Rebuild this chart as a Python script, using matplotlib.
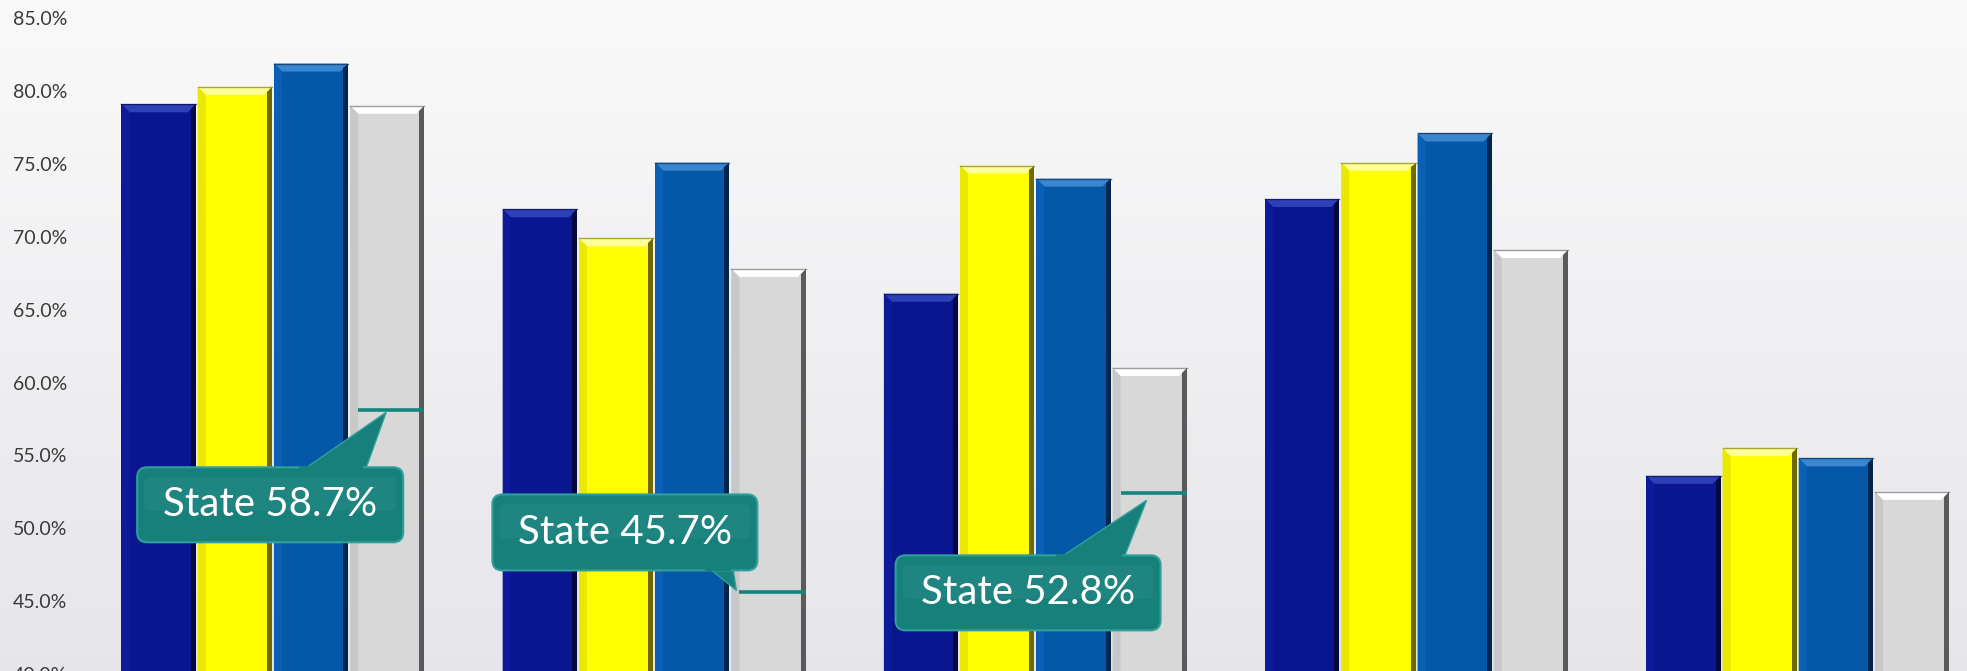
import numpy as np
import matplotlib
matplotlib.use("Agg")
import matplotlib.pyplot as plt
from matplotlib.patches import Polygon, FancyBboxPatch
from matplotlib.ticker import FuncFormatter

# ---------------- data ----------------
categories = ["G1", "G2", "G3", "G4", "G5"]
series_navy = [79.1, 71.9, 66.1, 72.6, 53.6]
series_yellow = [80.3, 69.9, 74.9, 75.1, 55.5]
series_blue = [81.9, 75.1, 74.0, 77.1, 54.8]
series_gray = [79.0, 67.8, 61.0, 69.1, 52.5]
state_groups = [0, 1, 2]
state_line_values = [58.1, 45.6, 52.4]
state_labels = ["State 58.7%", "State 45.7%", "State 52.8%"]
y_ticks = [40, 45, 50, 55, 60, 65, 70, 75, 80, 85]

# ---------------- style ----------------
W, H, DPI = 1967, 671, 100
FONT = ["Lato", "DejaVu Sans"]
base_colors = ["#0A168F", "#FFFF00", "#0558A8", "#D8D8D8"]
top_colors = ["#2E40B8", "#FFFF9A", "#3A86D0", "#FFFFFF"]
right_colors = ["#03083F", "#6E6A00", "#01264D", "#5A5A5A"]
left_colors = ["#0D1B9A", "#E8E800", "#0A60B5", "#C8C8C8"]
teal = "#18807B"
teal_edge = "#2FA09A"

fig = plt.figure(figsize=(W / DPI, H / DPI), dpi=DPI)
ax_h_px = H + 3
ax = fig.add_axes([0, -3 / H, 1, ax_h_px / H])
ax.set_xlim(-0.716, 4.444)
ax.set_ylim(40.0, 86.26)
for s in ax.spines.values():
    s.set_visible(False)

# background gradient
grad = np.linspace(0, 1, 256).reshape(-1, 1)
top_c = np.array([0.978, 0.978, 0.978])
bot_c = np.array([0.900, 0.900, 0.920])
img = top_c * (1 - grad[..., None]) + bot_c * grad[..., None]
img = np.repeat(img, 2, axis=1)
ax.imshow(img, extent=[-0.716, 4.444, 40.0, 86.26], aspect="auto", zorder=0)
ax.set_xlim(-0.716, 4.444)
ax.set_ylim(40.0, 86.26)

# pixel sizes in data units
px_x = (4.444 + 0.716) / W
px_y = (86.26 - 40.0) / ax_h_px

x = np.arange(len(categories))
bw = 0.2
all_series = [series_navy, series_yellow, series_blue, series_gray]
gray_rects = []
for i, vals in enumerate(all_series):
    offs = (i - 1.5) * bw
    bars = ax.bar(x + offs, vals, width=bw - 2 * px_x, bottom=0,
                  color=base_colors[i], zorder=2, linewidth=0)
    for r in bars:
        x0 = r.get_x()
        w = r.get_width()
        h = r.get_y() + r.get_height()
        dx = 8 * px_x
        dy = 8 * px_y
        rx = 5 * px_x
        # top bevel
        ax.add_patch(Polygon([(x0, h), (x0 + w, h), (x0 + w - dx, h - dy), (x0 + dx, h - dy)],
                             closed=True, facecolor=top_colors[i], edgecolor="none", zorder=3))
        # left bevel
        ax.add_patch(Polygon([(x0, h), (x0 + dx, h - dy), (x0 + dx, 0), (x0, 0)],
                             closed=True, facecolor=left_colors[i], edgecolor="none", zorder=3))
        # right bevel (dark)
        ax.add_patch(Polygon([(x0 + w, h), (x0 + w, 0), (x0 + w - rx, 0), (x0 + w - rx, h - dy * 0.6)],
                             closed=True, facecolor=right_colors[i], edgecolor="none", zorder=3))
        # thin top outline
        ax.plot([x0, x0 + w], [h, h], color=right_colors[i], lw=1.0, zorder=4, alpha=0.6)
        if i == 3:
            gray_rects.append((x0, w))

# y tick labels
ax.set_xticks([])
ax.set_yticks(y_ticks)
ax.yaxis.set_major_formatter(FuncFormatter(lambda v, p: f"{v:.1f}%"))
ax.tick_params(axis="y", length=0, pad=-9, labelsize=14, labelcolor="#3A3A3A")
for lab in ax.get_yticklabels():
    lab.set_horizontalalignment("left")
    lab.set_fontfamily(FONT)

# callouts: box (left, right, top, bottom) and tail (base x0, base x1, tip x, tip y),
# in image pixels relative to the state line's left end (y measured downward)
callout_geom = [
    dict(box=(-221, 45, 57, 132), tail=(-60, 6, 28, 2), side="top"),
    dict(box=(-247, 18, -98, -22), tail=(-35, -7, -3, -2), side="bottom"),
    dict(box=(-225, 40, 62, 137), tail=(-66, 2, 26, 7), side="top"),
]


def pix(ax_x, ax_y, dxp, dyp):
    return ax_x + dxp * px_x, ax_y - dyp * px_y


for k, g in enumerate(state_groups):
    x0, w = gray_rects[g]
    yv = state_line_values[k]
    lx = x0 + 8 * px_x
    ax.plot([lx, x0 + w], [yv, yv], color="#14847F", lw=2.6, zorder=6, solid_capstyle="butt")
    geo = callout_geom[k]
    bl, br, bt, bb = geo["box"]
    t0, t1, tipx, tipy = geo["tail"]
    sgn = 1 if geo["side"] == "top" else -1
    base_y = bt if geo["side"] == "top" else bb
    p1 = pix(lx, yv, t0, base_y + 6 * sgn)
    p2 = pix(lx, yv, t1, base_y + 6 * sgn)
    p3 = pix(lx, yv, tipx, tipy)
    ax.add_patch(Polygon([p1, p2, p3], closed=True, facecolor=teal, edgecolor=teal_edge,
                         lw=1.0, zorder=7))
    xa, ya = pix(lx, yv, bl, bb)
    xb, yb = pix(lx, yv, br, bt)
    pad_x = 10 * px_x
    ax.add_patch(FancyBboxPatch((xa + pad_x, ya + 10 * px_y), (xb - xa) - 2 * pad_x,
                                (yb - ya) - 20 * px_y,
                                boxstyle=f"round,pad={10 * px_x},rounding_size={10 * px_x}",
                                mutation_aspect=px_y / px_x,
                                facecolor=teal, edgecolor=teal_edge, lw=1.5, zorder=8))
    # subtle lighter upper half for a glossy look
    ax.add_patch(FancyBboxPatch((xa + pad_x + 3 * px_x, (ya + yb) / 2), (xb - xa) - 2 * pad_x - 6 * px_x,
                                (yb - ya) / 2 - 16 * px_y,
                                boxstyle=f"round,pad={6 * px_x},rounding_size={6 * px_x}",
                                mutation_aspect=px_y / px_x,
                                facecolor="#2A918C", edgecolor="none", lw=0, zorder=8.5, alpha=0.35))
    ax.add_patch(Polygon([pix(lx, yv, t0 + 1, base_y + 8 * sgn),
                          pix(lx, yv, t1 - 1, base_y + 8 * sgn),
                          pix(lx, yv, t1 - 1, base_y - 1 * sgn),
                          pix(lx, yv, t0 + 1, base_y - 1 * sgn)],
                         closed=True, facecolor=teal, edgecolor="none", zorder=9))
    ax.text((xa + xb) / 2, (ya + yb) / 2, state_labels[k], color="white", fontsize=29,
            family=FONT, ha="center", va="center", zorder=10)

fig.savefig("out.png", dpi=DPI)
